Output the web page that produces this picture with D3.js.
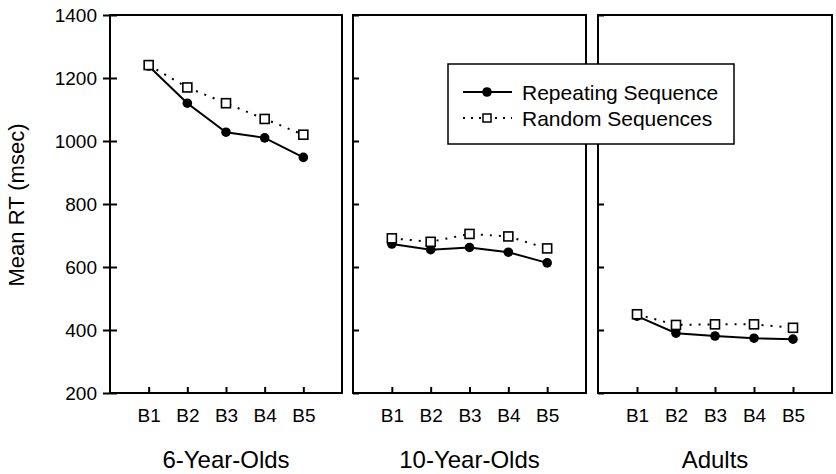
<!DOCTYPE html>
<html>

<head>
  <title>Mean RT by block</title>
  <style>
    body { margin: 0; background: #fff; }
    text { font-family: "Liberation Sans", Arial, Helvetica, sans-serif; fill: #000; }
  </style>
</head>

<body>
  <svg id="main" width="836" height="474"></svg>

  <script src="https://cdn.jsdelivr.net/npm/d3@7.0.1/dist/d3.min.js"></script>
  <script>
    const blocks = ['B1', 'B2', 'B3', 'B4', 'B5']
    const groups = ['6-Year-Olds', '10-Year-Olds', 'Adults']
    const yTicks = [200, 400, 600, 800, 1000, 1200, 1400]

    const repeating6 = [1238, 1120, 1028, 1010, 948]
    const random6 = [1241, 1170, 1120, 1070, 1020]
    const repeating10 = [673, 655, 662, 647, 613]
    const random10 = [691, 680, 705, 697, 659]
    const repeatingAdult = [444, 390, 381, 374, 371]
    const randomAdult = [450, 416, 418, 418, 407]

    const seriesNames = ['Repeating Sequence', 'Random Sequences']
    const repeating = [repeating6, repeating10, repeatingAdult]
    const random = [random6, random10, randomAdult]

    const svg = d3.select('#main')
    const plotTop = 15, plotBottom = 393
    const panels = [[110, 342], [353, 586], [598, 832]]

    const yScale = d3.scaleLinear().domain([200, 1400]).range([plotBottom, plotTop])

    panels.forEach((p, i) => {
      const g = svg.append('g')
      const xScale = d3.scalePoint().domain(blocks).range(p).padding(1)

      // frame
      g.append('rect')
        .attr('x', p[0]).attr('y', plotTop)
        .attr('width', p[1] - p[0]).attr('height', plotBottom - plotTop)
        .attr('fill', 'none').attr('stroke', '#000').attr('stroke-width', 2)

      // y ticks
      if (i === 0) {
        const yAxis = d3.axisLeft(yScale).tickValues(yTicks).tickFormat(d3.format('d'))
          .tickSize(7).tickPadding(6)
        const ya = g.append('g').attr('transform', `translate(${p[0]},0)`).call(yAxis)
        ya.selectAll('text').attr('font-size', '19px')
        const yIn = d3.axisRight(yScale).tickValues(yTicks).tickSize(7).tickFormat('')
        g.append('g').attr('transform', `translate(${p[0]},0)`).call(yIn)
      } else {
        const yIn = d3.axisRight(yScale).tickValues(yTicks).tickSize(6).tickFormat('')
        g.append('g').attr('transform', `translate(${p[0]},0)`).call(yIn)
      }

      // x ticks (inside) and labels
      g.append('g').attr('transform', `translate(0,${plotBottom})`)
        .call(d3.axisTop(xScale).tickSize(6).tickFormat(''))
      const xa = g.append('g').attr('transform', `translate(0,${plotBottom})`)
        .call(d3.axisBottom(xScale).tickSize(0).tickPadding(16))
      xa.selectAll('text').attr('font-size', '19px')

      g.selectAll('.domain').attr('stroke', 'none')
      g.selectAll('.tick line').attr('stroke', '#000').attr('stroke-width', 2)

      // group label
      g.append('text').text(groups[i])
        .attr('x', (p[0] + p[1]) / 2).attr('y', 468)
        .attr('text-anchor', 'middle').attr('font-size', '24px')

      const line = d3.line().x((d, j) => xScale(blocks[j])).y(d => yScale(d))

      g.append('path').datum(random[i]).attr('d', line)
        .attr('fill', 'none').attr('stroke', '#000').attr('stroke-width', 2)
        .attr('stroke-dasharray', '2,7')
      g.append('path').datum(repeating[i]).attr('d', line)
        .attr('fill', 'none').attr('stroke', '#000').attr('stroke-width', 2)

      g.selectAll('.rep').data(repeating[i]).join('circle')
        .attr('class', 'rep')
        .attr('cx', (d, j) => xScale(blocks[j])).attr('cy', d => yScale(d))
        .attr('r', 4.8).attr('fill', '#000')

      g.selectAll('.rnd').data(random[i]).join('rect')
        .attr('class', 'rnd')
        .attr('x', (d, j) => xScale(blocks[j]) - 4.5).attr('y', d => yScale(d) - 4.5)
        .attr('width', 9).attr('height', 9)
        .attr('fill', '#fff').attr('stroke', '#000').attr('stroke-width', 1.6)
    })

    // y axis title
    svg.append('text').text('Mean RT (msec)')
      .attr('transform', 'translate(24,205) rotate(-90)')
      .attr('text-anchor', 'middle').attr('font-size', '22px')

    // legend
    const lg = svg.append('g')
    lg.append('rect').attr('x', 448).attr('y', 64).attr('width', 286).attr('height', 80)
      .attr('fill', '#fff').attr('stroke', '#000').attr('stroke-width', 1.5)
    const rows = [92, 118]
    seriesNames.forEach((name, k) => {
      const yy = rows[k]
      lg.append('line').attr('x1', 463).attr('x2', 512).attr('y1', yy).attr('y2', yy)
        .attr('stroke', '#000').attr('stroke-width', 2)
        .attr('stroke-dasharray', k === 1 ? '2,6' : null)
      if (k === 0) {
        lg.append('circle').attr('cx', 487).attr('cy', yy).attr('r', 4.8).attr('fill', '#000')
      } else {
        lg.append('rect').attr('x', 483).attr('y', yy - 4).attr('width', 8).attr('height', 8)
          .attr('fill', '#fff').attr('stroke', '#000').attr('stroke-width', 1.5)
      }
      lg.append('text').text(name).attr('x', 522).attr('y', yy + 7.5).attr('font-size', '21px')
    })
  </script>
</body>

</html>
